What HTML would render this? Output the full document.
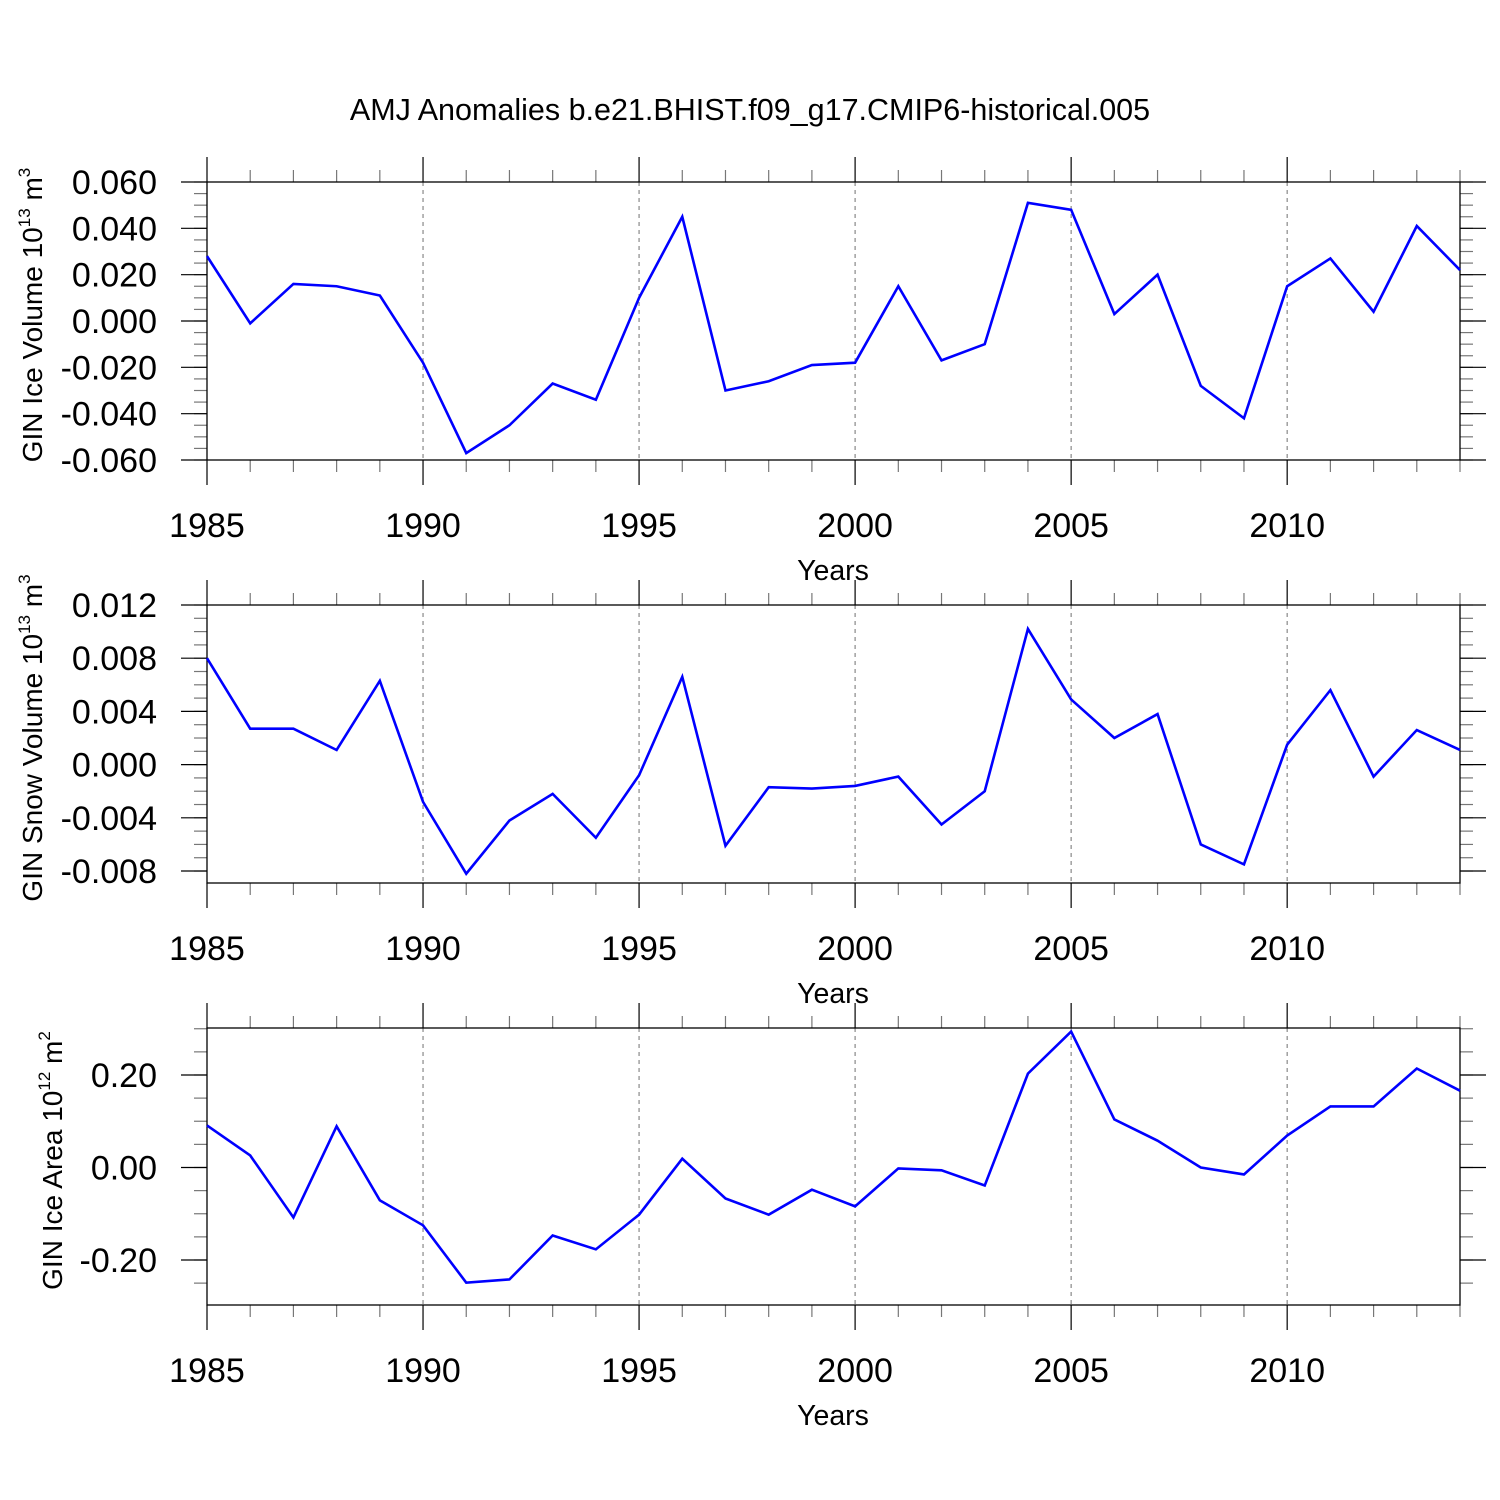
<!DOCTYPE html>
<html><head><meta charset="utf-8"><style>
body{margin:0;background:#fff}
svg{display:block;font-family:"Liberation Sans",sans-serif}
</style></head><body>
<svg id="chart" width="1500" height="1500" viewBox="0 0 1500 1500">
<rect width="1500" height="1500" fill="#fff"/>
<text x="750" y="120" font-size="30.5" text-anchor="middle">AMJ Anomalies b.e21.BHIST.f09_g17.CMIP6-historical.005</text>
</svg>
<script>
const years = [1985,1986,1987,1988,1989,1990,1991,1992,1993,1994,1995,1996,1997,1998,1999,2000,2001,2002,2003,2004,2005,2006,2007,2008,2009,2010,2011,2012,2013,2014];
const iceVolume = [0.028,-0.001,0.016,0.015,0.011,-0.018,-0.057,-0.045,-0.027,-0.034,0.010,0.045,-0.030,-0.026,-0.019,-0.018,0.015,-0.017,-0.010,0.051,0.048,0.003,0.020,-0.028,-0.042,0.015,0.027,0.004,0.041,0.022];
const snowVolume = [0.0080,0.0027,0.0027,0.0011,0.0063,-0.0028,-0.0082,-0.0042,-0.0022,-0.0055,-0.0008,0.0066,-0.0061,-0.0017,-0.0018,-0.0016,-0.0009,-0.0045,-0.0020,0.0102,0.0049,0.0020,0.0038,-0.0060,-0.0075,0.0015,0.0056,-0.0009,0.0026,0.0011];
const iceArea = [0.091,0.026,-0.108,0.089,-0.071,-0.125,-0.249,-0.242,-0.147,-0.177,-0.102,0.019,-0.067,-0.102,-0.048,-0.084,-0.002,-0.006,-0.039,0.203,0.294,0.104,0.058,0.000,-0.015,0.069,0.132,0.132,0.214,0.166];
const xTickYears = [1985,1990,1995,2000,2005,2010];
const ticks1 = [0.06,0.04,0.02,0,-0.02,-0.04,-0.06];
const labels1 = ["0.060","0.040","0.020","0.000","-0.020","-0.040","-0.060"];
const ticks2 = [0.012,0.008,0.004,0,-0.004,-0.008];
const labels2 = ["0.012","0.008","0.004","0.000","-0.004","-0.008"];
const ticks3 = [0.2,0,-0.2];
const labels3 = ["0.20","0.00","-0.20"];

const NS="http://www.w3.org/2000/svg";
const svg=document.getElementById('chart');
function mk(tag,attrs,parent){const e=document.createElementNS(NS,tag);for(const k in attrs)e.setAttribute(k,attrs[k]);(parent||svg).appendChild(e);return e;}
const X0=207,X1=1460;
const xScale=y=>X0+(y-1985)*(X1-X0)/29;

function panel(idx,top,bottom,ymin,ymax,vals,ticks,labels,minorStep,ytitle,sup,unit){
  const g=mk('g',{});
  
  
  const ys=v=>bottom-(v-ymin)*(bottom-top)/(ymax-ymin);
  xTickYears.slice(1).forEach(yr=>{
    const l=mk('line',{x1:xScale(yr),x2:xScale(yr),y1:top,y2:bottom,stroke:'#888','stroke-width':1.2,'stroke-dasharray':'4,4'},g);
    
    
  });
  for(let yr=1985;yr<=2014;yr++){
    const major=yr%5===0, len=major?25:12;
    mk('line',{x1:xScale(yr),x2:xScale(yr),y1:top,y2:top-len,stroke:major?'#000':'#777','stroke-width':1.2},g);
    mk('line',{x1:xScale(yr),x2:xScale(yr),y1:bottom,y2:bottom+len,stroke:major?'#000':'#777','stroke-width':1.2},g);
  }
  const start=Math.ceil(ymin/minorStep-1e-6);
  for(let i=start;i*minorStep<=ymax+1e-9;i++){
    const v=i*minorStep, y=ys(v);
    mk('line',{x1:X0,x2:X0-13,y1:y,y2:y,stroke:'#777','stroke-width':1.2},g);
    mk('line',{x1:X1,x2:X1+13,y1:y,y2:y,stroke:'#777','stroke-width':1.2},g);
  }
  ticks.forEach((v,i)=>{
    const y=ys(v);
    mk('line',{x1:X0,x2:X0-26,y1:y,y2:y,stroke:'#000','stroke-width':1.2},g);
    mk('line',{x1:X1,x2:X1+26,y1:y,y2:y,stroke:'#000','stroke-width':1.2},g);
    const t=mk('text',{x:157,y:y+12,'font-size':34,'text-anchor':'end'},g);
    t.textContent=labels[i];
    
    
  });
  const box=mk('rect',{x:X0,y:top,width:X1-X0,height:bottom-top,fill:'none',stroke:'#000','stroke-width':1.3},g);
  
  
  xTickYears.forEach(yr=>{
    const t=mk('text',{x:xScale(yr),y:bottom+77,'font-size':34,'text-anchor':'middle'},g);
    t.textContent=yr;
    
    
  });
  const xt=mk('text',{x:833,y:bottom+120,'font-size':28.5,'text-anchor':'middle'},g);
  xt.textContent='Years';
  
  
  const cy=(top+bottom)/2;
  const yt=mk('text',{transform:`translate(${idx===3?62:42},${cy-6}) rotate(-90)`,'font-size':28,'text-anchor':'middle'},g);
  yt.innerHTML=`${ytitle} 10<tspan dy="-12" font-size="17">${sup}</tspan><tspan dy="12"> ${unit}</tspan><tspan dy="-12" font-size="17">${idx===3?'2':'3'}</tspan>`;
  
  
  const pts=vals.map((v,i)=>xScale(years[i])+','+ys(v)).join(' ');
  const pl=mk('polyline',{points:pts,fill:'none',stroke:'#0000ff','stroke-width':2.6,'stroke-linejoin':'miter'},g);
  
  
}
panel(1,182,460,-0.06,0.06,iceVolume,ticks1,labels1,0.005,'GIN Ice Volume','13','m');
panel(2,605,883,-0.0089,0.012,snowVolume,ticks2,labels2,0.001,'GIN Snow Volume','13','m');
panel(3,1028,1305,-0.2973,0.3016,iceArea,ticks3,labels3,0.05,'GIN Ice Area','12','m');
</script>
</body></html>
